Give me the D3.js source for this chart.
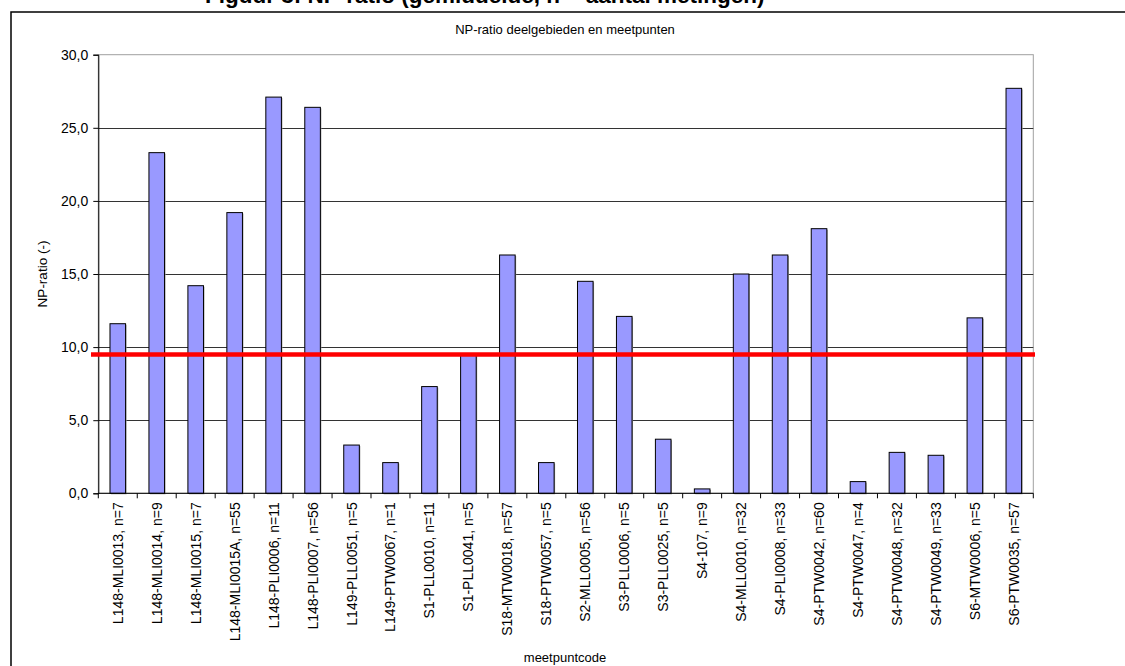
<!DOCTYPE html>
<html><head><meta charset="utf-8">
<script src="https://cdn.jsdelivr.net/npm/d3@7"></script>
<style>body{margin:0;background:#fff;}svg{display:block;font-family:"Liberation Sans",Arial,sans-serif;}</style>
</head><body>
<svg id="c" width="1125" height="666"></svg>
<script>
const categories = ["L148-MLI0013, n=7","L148-MLI0014, n=9","L148-MLI0015, n=7","L148-MLI0015A, n=55","L148-PLI0006, n=11","L148-PLI0007, n=56","L149-PLL0051, n=5","L149-PTW0067, n=1","S1-PLL0010, n=11","S1-PLL0041, n=5","S18-MTW0018, n=57","S18-PTW0057, n=5","S2-MLL0005, n=56","S3-PLL0006, n=5","S3-PLL0025, n=5","S4-107, n=9","S4-MLL0010, n=32","S4-PLI0008, n=33","S4-PTW0042, n=60","S4-PTW0047, n=4","S4-PTW0048, n=32","S4-PTW0049, n=33","S6-MTW0006, n=5","S6-PTW0035, n=57"];
const npRatio = [11.6,23.3,14.2,19.2,27.1,26.4,3.3,2.1,7.3,9.5,16.3,2.1,14.5,12.1,3.7,0.3,15.0,16.3,18.1,0.8,2.8,2.6,12.0,27.7];
const yTicks = [0,5,10,15,20,25,30];
const norm = 9.5;
const chartTitle = "NP-ratio deelgebieden en meetpunten";
const yTitle = "NP-ratio (-)";
const xTitle = "meetpuntcode";
const topTitle = "Figuur 3: NP-ratio (gemiddelde, n = aantal metingen)";

const svg = d3.select("#c");
const L = 98.3, R = 1033.3, T = 54.7, B = 493.3;
const x = d3.scaleBand().domain(categories).range([L, R]).paddingInner(0.6).paddingOuter(0.3);
const y = d3.scaleLinear().domain([0, 30]).range([B, T]);
const fmt = d => d.toFixed(1).replace(".", ",");

// outer chart border (extends past viewport right/bottom)
svg.append("rect").attr("x", 11).attr("y", 12).attr("width", 1200).attr("height", 800)
  .attr("fill", "none").attr("stroke", "#000").attr("stroke-width", 1.5);

// cut-off heading above chart (only lower part visible, as in the reference)
svg.append("text").attr("x", 205).attr("y", 3).attr("font-size", 22.5).attr("font-weight", "bold")
  .attr("fill", "#000").text(topTitle);

// plot area border
svg.append("rect").attr("x", L).attr("y", T).attr("width", R - L).attr("height", B - T)
  .attr("fill", "none").attr("stroke", "#a0a0a0").attr("stroke-width", 1);

// gridlines
svg.append("g").selectAll("line").data(yTicks.filter(d => d > 0 && d < 30)).join("line")
  .attr("x1", L).attr("x2", R).attr("y1", d => Math.round(y(d)) + 0.5).attr("y2", d => Math.round(y(d)) + 0.5)
  .attr("stroke", "#333").attr("stroke-width", 1);

// bars with slight shadow
svg.append("g").selectAll("rect").data(npRatio).join("rect")
  .attr("x", (d, i) => x(categories[i]) + 1).attr("y", d => y(d) + 1)
  .attr("width", x.bandwidth()).attr("height", d => B - y(d))
  .attr("fill", "#a0a0a0");
svg.append("g").selectAll("rect").data(npRatio).join("rect")
  .attr("x", (d, i) => x(categories[i])).attr("y", d => y(d))
  .attr("width", x.bandwidth()).attr("height", d => B - y(d))
  .attr("fill", "#9999ff").attr("stroke", "#000").attr("stroke-width", 1);

// y axis
const yAxis = d3.axisLeft(y).tickValues(yTicks).tickFormat(fmt).tickSize(5).tickPadding(5);
const gy = svg.append("g").attr("transform", `translate(${L},0)`).call(yAxis);
gy.select(".domain").attr("stroke", "#000");
gy.selectAll("text").attr("font-size", 14).attr("font-family", "Liberation Sans, Arial, sans-serif").attr("fill", "#000");

// x axis line and ticks between categories
const xa = svg.append("g");
xa.append("line").attr("x1", L).attr("x2", R).attr("y1", B).attr("y2", B).attr("stroke", "#000");
const step = x.step();
xa.selectAll("line.t").data(d3.range(categories.length + 1)).join("line").attr("class", "t")
  .attr("x1", i => L + i * step).attr("x2", i => L + i * step)
  .attr("y1", B).attr("y2", B + 5).attr("stroke", "#000");
xa.selectAll("text").data(categories).join("text")
  .attr("transform", d => `translate(${x(d) + x.bandwidth() / 2 + 5},${B + 9}) rotate(-90)`)
  .attr("text-anchor", "end").attr("font-size", 14).attr("fill", "#000").text(d => d);

// norm line
svg.append("line").attr("x1", 91).attr("x2", 1035).attr("y1", y(norm)).attr("y2", y(norm))
  .attr("stroke", "#ff0000").attr("stroke-width", 4.5);

// titles
svg.append("text").attr("x", 565).attr("y", 34).attr("text-anchor", "middle").attr("font-size", 13).text(chartTitle);
svg.append("text").attr("transform", `translate(47,274) rotate(-90)`).attr("text-anchor", "middle").attr("font-size", 13.5).text(yTitle);
svg.append("text").attr("x", 565).attr("y", 662).attr("text-anchor", "middle").attr("font-size", 13).text(xTitle);
</script>
</body></html>
